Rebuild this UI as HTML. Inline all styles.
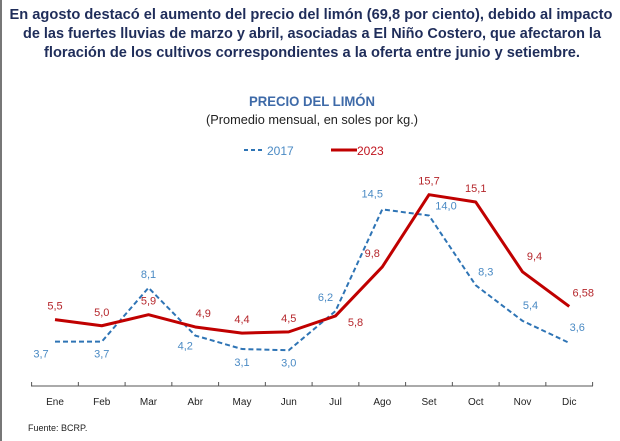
<!DOCTYPE html>
<html><head><meta charset="utf-8"><style>
body{margin:0;background:#fff;}
#wrap{position:relative;width:620px;height:441px;overflow:hidden;font-family:"Liberation Sans",sans-serif;}
</style></head><body>
<div id="wrap">
<svg id="svg" width="620" height="441" xmlns="http://www.w3.org/2000/svg">
<rect x="0" y="0" width="2" height="441" fill="#777"/>
<g font-family="Liberation Sans, sans-serif" font-weight="bold" font-size="14.5" fill="#1f2d5a" text-anchor="middle">
<text x="311" y="19" textLength="603" lengthAdjust="spacingAndGlyphs">En agosto destacó el aumento del precio del limón (69,8 por ciento), debido al impacto</text>
<text x="312" y="38" textLength="578" lengthAdjust="spacingAndGlyphs">de las fuertes lluvias de marzo y abril, asociadas a El Niño Costero, que afectaron la</text>
<text x="312" y="57" textLength="536" lengthAdjust="spacingAndGlyphs">floración de los cultivos correspondientes a la oferta entre junio y setiembre.</text>
</g>
<text x="312" y="106" text-anchor="middle" font-size="14" font-weight="bold" fill="#3e6aa8" font-family="Liberation Sans, sans-serif" textLength="126" lengthAdjust="spacingAndGlyphs">PRECIO DEL LIMÓN</text>
<text x="312" y="124" text-anchor="middle" font-size="13" fill="#222" font-family="Liberation Sans, sans-serif" textLength="212" lengthAdjust="spacingAndGlyphs">(Promedio mensual, en soles por kg.)</text>
<g>
<line x1="244" y1="150" x2="264" y2="150" stroke="#2e74b5" stroke-width="2" stroke-dasharray="4,3"/>
<text x="267" y="155" font-size="12" fill="#4a8ac4">2017</text>
</g>
<g>
<line x1="331" y1="150" x2="357" y2="150" stroke="#c00000" stroke-width="3"/>
<text x="357" y="155" font-size="12" fill="#c0141e">2023</text>
</g>
<g id="axis"></g>
<g id="series"></g>
<text x="28" y="431" font-size="9" fill="#222">Fuente: BCRP.</text>
</svg>
</div>
<script>
const months=["Ene","Feb","Mar","Abr","May","Jun","Jul","Ago","Set","Oct","Nov","Dic"];
const values2017=[3.7,3.7,8.1,4.2,3.1,3.0,6.2,14.5,14.0,8.3,5.4,3.6];
const values2023=[5.5,5.0,5.9,4.9,4.4,4.5,5.8,9.8,15.7,15.1,9.4,6.58];
const labels2017=["3,7","3,7","8,1","4,2","3,1","3,0","6,2","14,5","14,0","8,3","5,4","3,6"];
const labels2023=["5,5","5,0","5,9","4,9","4,4","4,5","5,8","9,8","15,7","15,1","9,4","6,58"];
const NS="http://www.w3.org/2000/svg";
function xs(i){return 55+i*46.75;}
function ys(v){return 387-v*12.25;}
const axis=document.getElementById('axis');
const series=document.getElementById('series');
function mk(tag,attrs,parent){const e=document.createElementNS(NS,tag);for(const k in attrs)e.setAttribute(k,attrs[k]);parent.appendChild(e);return e;}
const al=mk('line',{x1:31,y1:386,x2:593,y2:386,stroke:'#555','stroke-width':1},axis);


for(let i=0;i<=12;i++){
  const t=mk('line',{x1:xs(i)-23.4,y1:382,x2:xs(i)-23.4,y2:386,stroke:'#555','stroke-width':1},axis);
  
  
}
months.forEach((m,i)=>{
  const t=mk('text',{x:xs(i),y:405,'text-anchor':'middle','font-size':10,fill:'#222'},axis);
  t.textContent=m;
  
  
});
const p17=mk('polyline',{points:values2017.map((v,i)=>xs(i)+','+ys(v)).join(' '),fill:'none',stroke:'#2e74b5','stroke-width':2,'stroke-dasharray':'5,3'},series);


const p23=mk('polyline',{points:values2023.map((v,i)=>xs(i)+','+ys(v)).join(' '),fill:'none',stroke:'#c00000','stroke-width':3,'stroke-linejoin':'round'},series);


const off17=[[-14,16],[0,16],[0,-10],[-10,14],[0,17],[0,16],[-10,-10],[-10,-12],[17,-6],[10,-10],[8,-12],[8,-12]];
const off23=[[0,-10],[0,-10],[0,-10],[8,-10],[0,-10],[0,-10],[20,10],[-10,-10],[0,-10],[0,-10],[12,-12],[14,-10]];
values2017.forEach((v,i)=>{
  const t=mk('text',{x:xs(i)+off17[i][0],y:ys(v)+off17[i][1],'text-anchor':'middle','font-size':11,fill:'#4a8ac4'},series);
  t.textContent=labels2017[i];
  
  
});
values2023.forEach((v,i)=>{
  const t=mk('text',{x:xs(i)+off23[i][0],y:ys(v)+off23[i][1],'text-anchor':'middle','font-size':11,fill:'#b5262b'},series);
  t.textContent=labels2023[i];
  
  
});
</script>
</body></html>
